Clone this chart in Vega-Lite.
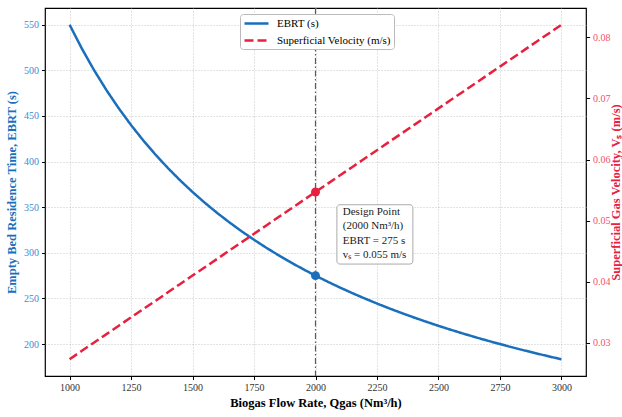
{
  "$schema": "https://vega.github.io/schema/vega-lite/v6.json",
  "width": 541,
  "height": 368,
  "autosize": {"type": "none"},
  "padding": {"left": 45, "top": 8, "right": 36, "bottom": 41},
  "background": "white",
  "config": {
    "font": "Liberation Serif",
    "view": {"stroke": "black", "strokeWidth": 1.2},
    "axis": {
      "domain": false,
      "tickColor": "black",
      "tickSize": 3.5,
      "tickWidth": 1,
      "labelFont": "Liberation Serif",
      "labelFontSize": 10,
      "titleFont": "Liberation Serif",
      "titleFontSize": 12.5,
      "titleFontWeight": "bold",
      "gridColor": "#b8b8b8",
      "gridDash": [1, 2],
      "gridWidth": 0.8
    },
    "legend": {
      "labelFont": "Liberation Serif",
      "labelFontSize": 11,
      "labelColor": "black"
    }
  },
  "datasets": {
    "curve": [
      {"Q": 1000, "EBRT": 550, "Vs": 0.02735},
      {"Q": 1050, "EBRT": 523.81, "Vs": 0.02872},
      {"Q": 1100, "EBRT": 500, "Vs": 0.03009},
      {"Q": 1150, "EBRT": 478.26, "Vs": 0.03145},
      {"Q": 1200, "EBRT": 458.33, "Vs": 0.03282},
      {"Q": 1250, "EBRT": 440, "Vs": 0.03419},
      {"Q": 1300, "EBRT": 423.08, "Vs": 0.03556},
      {"Q": 1350, "EBRT": 407.41, "Vs": 0.03692},
      {"Q": 1400, "EBRT": 392.86, "Vs": 0.03829},
      {"Q": 1450, "EBRT": 379.31, "Vs": 0.03966},
      {"Q": 1500, "EBRT": 366.67, "Vs": 0.04103},
      {"Q": 1550, "EBRT": 354.84, "Vs": 0.04239},
      {"Q": 1600, "EBRT": 343.75, "Vs": 0.04376},
      {"Q": 1650, "EBRT": 333.33, "Vs": 0.04513},
      {"Q": 1700, "EBRT": 323.53, "Vs": 0.0465},
      {"Q": 1750, "EBRT": 314.29, "Vs": 0.04786},
      {"Q": 1800, "EBRT": 305.56, "Vs": 0.04923},
      {"Q": 1850, "EBRT": 297.3, "Vs": 0.0506},
      {"Q": 1900, "EBRT": 289.47, "Vs": 0.05197},
      {"Q": 1950, "EBRT": 282.05, "Vs": 0.05333},
      {"Q": 2000, "EBRT": 275, "Vs": 0.0547},
      {"Q": 2050, "EBRT": 268.29, "Vs": 0.05607},
      {"Q": 2100, "EBRT": 261.9, "Vs": 0.05744},
      {"Q": 2150, "EBRT": 255.81, "Vs": 0.0588},
      {"Q": 2200, "EBRT": 250, "Vs": 0.06017},
      {"Q": 2250, "EBRT": 244.44, "Vs": 0.06154},
      {"Q": 2300, "EBRT": 239.13, "Vs": 0.06291},
      {"Q": 2350, "EBRT": 234.04, "Vs": 0.06427},
      {"Q": 2400, "EBRT": 229.17, "Vs": 0.06564},
      {"Q": 2450, "EBRT": 224.49, "Vs": 0.06701},
      {"Q": 2500, "EBRT": 220, "Vs": 0.06838},
      {"Q": 2550, "EBRT": 215.69, "Vs": 0.06974},
      {"Q": 2600, "EBRT": 211.54, "Vs": 0.07111},
      {"Q": 2650, "EBRT": 207.55, "Vs": 0.07248},
      {"Q": 2700, "EBRT": 203.7, "Vs": 0.07385},
      {"Q": 2750, "EBRT": 200, "Vs": 0.07521},
      {"Q": 2800, "EBRT": 196.43, "Vs": 0.07658},
      {"Q": 2850, "EBRT": 192.98, "Vs": 0.07795},
      {"Q": 2900, "EBRT": 189.66, "Vs": 0.07932},
      {"Q": 2950, "EBRT": 186.44, "Vs": 0.08068},
      {"Q": 3000, "EBRT": 183.33, "Vs": 0.08205}
    ],
    "design": [
      {"Q": 2000, "EBRT": 275, "Vs": 0.0547}
    ]
  },
  "layer": [
    {
      "data": {"name": "design"},
      "mark": {"type": "rule", "color": "#5a5a5a", "strokeWidth": 1.2, "strokeDash": [6, 2.5, 1.5, 2.5]},
      "encoding": {
        "x": {
          "field": "Q", "type": "quantitative",
          "scale": {"domain": [900, 3100], "nice": false, "zero": false},
          "axis": {
            "values": [1000, 1250, 1500, 1750, 2000, 2250, 2500, 2750, 3000],
            "format": "d",
            "grid": true,
            "labelColor": "#333333",
            "labelPadding": 3,
            "title": "Biogas Flow Rate, Qgas (Nm³/h)",
            "titleColor": "black",
            "titlePadding": 4
          }
        }
      }
    },
    {
      "encoding": {
        "y": {
          "field": "EBRT", "type": "quantitative",
          "scale": {"domain": [165, 568.33], "nice": false, "zero": false},
          "axis": {
            "values": [200, 250, 300, 350, 400, 450, 500, 550],
            "grid": true,
            "labelColor": "#3d8bd3",
            "labelPadding": 3,
            "title": "Empty Bed Residence Time, EBRT (s)",
            "titleColor": "#1a6fbd",
            "titlePadding": 5
          }
        }
      },
      "layer": [
        {
          "data": {"name": "design"},
          "mark": {"type": "rect", "fill": "white", "fillOpacity": 0.85, "stroke": "#aaaaaa", "strokeWidth": 1, "cornerRadius": 3},
          "encoding": {
            "x": {"datum": 2087, "type": "quantitative"},
            "x2": {"datum": 2396},
            "y": {"datum": 352.7, "type": "quantitative"},
            "y2": {"datum": 287.7}
          }
        },
        {
          "data": {"name": "curve"},
          "mark": {"type": "line", "strokeWidth": 2.5},
          "encoding": {
            "x": {"field": "Q", "type": "quantitative"},
            "color": {
              "datum": "EBRT (s)", "type": "nominal",
              "scale": {"domain": ["EBRT (s)", "Superficial Velocity (m/s)"], "range": ["#1a6fbd", "#e8203f"]},
              "legend": {
                "title": null,
                "orient": "none",
                "legendX": 195,
                "legendY": 6,
                "direction": "vertical",
                "fillColor": "white",
                "strokeColor": "#bbbbbb",
                "cornerRadius": 3,
                "padding": 3,
                "symbolType": "M-1,0H3.8",
                "symbolSize": 100,
                "symbolStrokeWidth": 2.5,
                "rowPadding": 5,
                "labelOffset": 21
              }
            },
            "strokeDash": {
              "datum": "EBRT (s)", "type": "nominal",
              "scale": {"domain": ["EBRT (s)", "Superficial Velocity (m/s)"], "range": [[1, 0], [9, 4]]},
              "legend": null
            }
          }
        },
        {
          "data": {"name": "design"},
          "mark": {"type": "point", "filled": true, "size": 80, "color": "#1a6fbd", "opacity": 1},
          "encoding": {"x": {"field": "Q", "type": "quantitative"}}
        },
        {
          "data": {"name": "design"},
          "mark": {"type": "text", "align": "left", "baseline": "middle", "lineBreak": "\n", "lineHeight": 14.3, "fontSize": 11, "font": "Liberation Serif", "color": "#1a1a1a", "text": "Design Point\n(2000 Nm³/h)\nEBRT = 275 s\nvₛ = 0.055 m/s"},
          "encoding": {
            "x": {"datum": 2111, "type": "quantitative"},
            "y": {"datum": 344.8, "type": "quantitative"}
          }
        }
      ]
    },
    {
      "encoding": {
        "y": {
          "field": "Vs", "type": "quantitative",
          "scale": {"domain": [0.0246, 0.0848], "nice": false, "zero": false},
          "axis": {
            "orient": "right",
            "values": [0.03, 0.04, 0.05, 0.06, 0.07, 0.08],
            "format": ".2f",
            "grid": false,
            "labelColor": "#f2506b",
            "labelPadding": 3,
            "title": "Superficial Gas Velocity, Vₛ (m/s)",
            "titleColor": "#e8203f",
            "titleAngle": -90,
            "titleX": 33,
            "titleY": 184,
            "titleAlign": "center",
            "titleBaseline": "alphabetic"
          }
        }
      },
      "layer": [
        {
          "data": {"name": "curve"},
          "mark": {"type": "line", "strokeWidth": 2.5},
          "encoding": {
            "x": {"field": "Q", "type": "quantitative"},
            "color": {"datum": "Superficial Velocity (m/s)", "type": "nominal"},
            "strokeDash": {"datum": "Superficial Velocity (m/s)", "type": "nominal"}
          }
        },
        {
          "data": {"name": "design"},
          "mark": {"type": "point", "filled": true, "size": 80, "color": "#e8203f", "opacity": 1},
          "encoding": {"x": {"field": "Q", "type": "quantitative"}}
        }
      ]
    }
  ],
  "resolve": {"scale": {"y": "independent"}}
}
